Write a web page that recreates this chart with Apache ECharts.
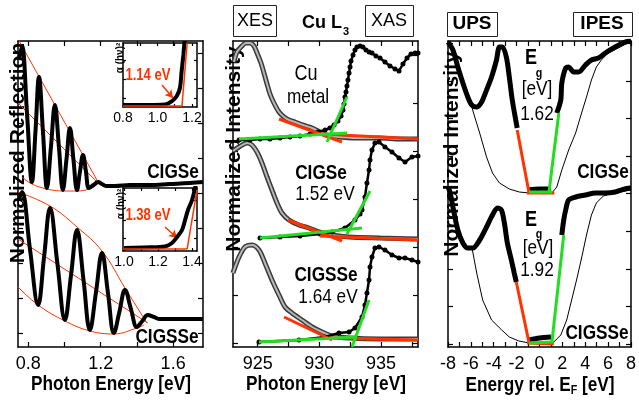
<!DOCTYPE html>
<html><head><meta charset="utf-8">
<script src="https://cdn.jsdelivr.net/npm/echarts@6/dist/echarts.min.js"></script>
<style>html,body{margin:0;padding:0;background:#fff}#c{width:639px;height:407px}</style>
</head><body><div id="c"></div><script>
// ---------- Panel 1: reflectance (x: photon energy eV, y: arbitrary) ----------
const reflCIGSe = [[0.749,287],[0.765,301],[0.793,233],[0.820,165],[0.840,217],[0.859,270],[0.881,215],[0.903,159],[0.925,200],[0.947,242],[0.969,200],[0.991,157],[1.011,188],[1.030,219],[1.049,188],[1.069,157],[1.085,175],[1.102,192],[1.118,176],[1.135,159],[1.160,162],[1.185,165],[1.207,163],[1.229,161],[1.278,161],[1.361,162],[1.471,162],[1.582,163],[1.692,164],[1.764,165]];
const reflCIGSSe = [[0.749,148],[0.765,155],[0.809,98],[0.854,42],[0.887,90],[0.920,139],[0.961,83],[1.002,27],[1.036,72],[1.069,117],[1.105,67],[1.140,17],[1.174,55],[1.207,94],[1.240,54],[1.273,14],[1.303,35],[1.334,57],[1.367,38],[1.400,20],[1.430,26],[1.460,32],[1.494,30],[1.527,28],[1.600,28],[1.700,28],[1.764,28]];
const envCIGSeUp = [[0.743,308],[1.179,167]];
const envCIGSeMid = [[0.743,244],[1.180,165]];
const envCIGSeLow = [[0.765,170],[0.820,163],[0.903,158],[0.991,156],[1.069,156],[1.135,158],[1.185,163]];
const envCIGSSeUp = [[0.743,155],[0.920,141],[1.069,120],[1.207,96],[1.334,59],[1.455,24]];
const envCIGSSeMid = [[0.743,108],[1.460,24]];
const envCIGSSeLow = [[0.743,60],[0.854,42],[1.002,26],[1.140,16],[1.273,13],[1.400,19],[1.440,22]];
const p1XTicks = [0.8,1.0,1.2,1.4,1.6];
const p1XLabels = [0.8,1.2,1.6];
const p1YTicks = [14,49,84,119,154,189,224,259,294];
// insets: alpha(hv)^2
const in1Abs = [[0.80,2],[0.95,2],[1.043,2.5],[1.082,5.7],[1.111,10.7],[1.130,19],[1.140,36],[1.150,52],[1.155,62],[1.160,70]];
const in1FitBase = [[0.80,1],[1.142,1]];
const in1FitEdge = [[1.142,1],[1.172,64]];
const in1Arrow = [[1.026,22],[1.090,9]];
const in1XTicks = [0.8,0.9,1.0,1.1,1.2];
const in1XLabels = [0.8,1.0,1.2];
const in1YTicks = [9,28,47];
const in2Abs = [[1.0,3],[1.2,4],[1.241,4.5],[1.282,8],[1.312,14],[1.341,21],[1.359,31],[1.376,41],[1.400,51],[1.418,63],[1.425,70]];
const in2FitBase = [[0.994,2],[1.371,2]];
const in2FitEdge = [[1.371,2],[1.429,61]];
const in2Arrow = [[1.241,24],[1.312,13]];
const in2XTicks = [1.0,1.1,1.2,1.3,1.4];
const in2XLabels = [1.0,1.2,1.4];
const in2YTicks = [13,31,51];

// ---------- Panel 2: Cu L3 XES / XAS ----------
const xesCu = [[923.08,285],[923.32,295],[923.73,301],[924.05,304],[924.38,304],[924.70,301],[924.95,294],[925.27,284],[925.51,274],[925.76,263],[926.0,253],[926.32,244],[926.73,235],[927.14,230],[927.54,227],[928.03,225],[928.43,223],[928.92,221],[929.41,219],[929.89,216],[930.38,213],[930.86,211],[931.67,210],[933.3,209],[934.92,209],[936.54,208],[938,208]];
const xasCu = [[923.49,207],[924.38,207],[925.19,208],[926.0,208],[926.81,209],[927.62,210],[928.43,211],[929.25,213],[929.89,215],[930.46,217],[930.86,219],[931.19,222],[931.51,226],[931.76,231],[931.92,237],[932.0,243],[932.08,250],[932.16,255],[932.24,261],[932.32,267],[932.41,274],[932.49,280],[932.57,286],[932.73,292],[932.89,297],[933.05,300],[933.30,301],[933.54,300],[933.78,297],[934.03,295],[934.27,294],[934.59,291],[934.92,289],[935.32,285],[935.73,281],[936.14,278],[936.46,276],[936.78,283],[937.11,289],[937.43,293],[937.76,294],[938.0,294]];
const xesCIGSe = [[923.0,196],[923.49,200],[924.14,204],[924.54,202],[924.95,195],[925.35,184],[925.76,170],[926.16,157],[926.57,144],[926.97,134],[927.54,127],[928.35,122],[929.16,119],[929.97,115],[931.03,112],[932.41,110],[934.92,109],[938,108]];
const xasCIGSe = [[925.19,109],[926.81,110],[928.43,111],[930.05,113],[931.03,115],[932.08,119],[932.89,127],[933.3,133],[933.46,137],[933.70,150],[933.86,164],[934.03,177],[934.11,187],[934.27,197],[934.51,204],[934.84,205],[935.32,200],[935.89,195],[936.46,189],[936.95,185],[937.51,190],[938,191]];
const xesCIGSSe = [[923.0,74],[923.08,77],[923.49,90],[923.97,100],[924.54,102],[925.11,97],[925.59,84],[926.16,67],[926.73,52],[927.22,40],[927.78,34],[928.59,27],[929.41,20],[930.22,15],[931.03,11],[932.41,9],[934.92,8],[938,8]];
const xasCIGSSe = [[925.11,5],[928.35,7],[930.46,10],[931.59,14],[932.41,15],[932.89,19],[933.46,30],[933.70,42],[933.86,54],[934.03,67],[934.11,80],[934.27,90],[934.51,99],[934.84,100],[935.32,97],[935.89,92],[936.46,89],[936.95,89],[937.51,87],[938,85]];
const fitCuRed = [[926.73,228],[931.84,205]];
const fitCuRedBase = [[930.22,213],[938,208]];
const fitCuGreenBase = [[923.49,208],[932.24,214]];
const fitCuGreen = [[930.62,205],[932.24,250]];
const fitCIGSeRed = [[927.46,127],[931.84,106]];
const fitCIGSeRedBase = [[930.05,111],[938,107]];
const fitCIGSeGreenBase = [[925.19,109],[933.46,119]];
const fitCIGSeGreen = [[932.24,113],[934.11,156]];
const fitCIGSSeRed = [[927.14,30],[931.03,7]];
const fitCIGSSeRedBase = [[930.78,9],[938,7]];
const fitCIGSSeGreenBase = [[925.11,5],[932.89,10]];
const fitCIGSSeGreen = [[932.65,0],[934.03,47]];
const p2XTicks = [925,927.5,930,932.5,935,937.5];
const p2XLabels = [925,930,935];
const p2YTicks = [4,52,100,148,196,244,292];

// ---------- Panel 3: UPS / IPES ----------
const upsCIGSe = [[-8,305],[-7.57,297],[-7.14,280],[-6.70,264],[-6.27,250],[-5.92,242],[-5.49,240],[-5.06,245],[-4.63,257],[-4.19,270],[-3.76,287],[-3.50,300],[-3.24,300],[-2.90,290],[-2.64,270],[-2.38,247],[-2.03,224],[-1.95,219]];
const ipesCIGSe = [[1.51,234],[1.86,247],[1.95,264],[2.29,279],[2.55,280],[2.98,275],[3.42,275],[4.02,282],[4.54,287],[5.15,289],[5.75,294],[6.62,300],[7.48,305],[8.0,306]];
const gapCIGSe = [[-1.0,157],[0,158],[1.0,158]];
const thinCIGSe = [[-5.92,240],[-5.66,230],[-5.23,214],[-4.63,190],[-4.11,174],[-3.50,164],[-2.64,158],[-1.77,155],[-0.91,154],[1.08,154],[1.51,160],[1.95,177],[2.55,197],[3.16,214],[3.68,234],[4.11,250],[4.54,267],[4.97,280],[5.41,287],[6.01,294],[6.88,299],[7.91,305]];
const upsCIGSSe = [[-8,160],[-7.83,155],[-7.57,140],[-7.14,117],[-6.70,104],[-6.27,99],[-5.84,99],[-5.23,107],[-4.63,120],[-4.11,132],[-3.68,139],[-3.33,137],[-3.07,124],[-2.81,104],[-2.46,87],[-2.21,74],[-2.03,65]];
const ipesCIGSSe = [[1.95,112],[2.12,127],[2.29,137],[2.55,147],[3.16,150],[4.02,152],[4.89,154],[5.75,154],[6.62,155],[7.91,159],[8,159]];
const gapCIGSSe = [[-0.9,7],[0,9],[1.0,10]];
const thinCIGSSe = [[-5.9,99],[-5.49,74],[-4.97,47],[-4.19,27],[-3.3,17],[-2.64,10],[-1.8,6],[-0.91,4],[1.25,5],[1.86,12],[2.38,27],[2.81,47],[3.24,67],[3.68,89],[4.11,112],[4.54,132],[4.97,144],[5.58,151],[6.44,154],[8.0,157]];
const fitUpsCIGSe = [[-1.95,217],[-0.91,154]];
const fitUpsCIGSeBase = [[-1.1,154],[1.3,154]];
const fitIpesCIGSeBase = [[-0.91,155],[1.08,155]];
const fitIpesCIGSe = [[0.82,154],[1.69,234]];
const fitUpsCIGSSe = [[-2.03,65],[-0.91,4]];
const fitUpsCIGSSeBase = [[-1.08,4],[1.25,3]];
const fitIpesCIGSSeBase = [[-0.91,4],[1.08,5]];
const fitIpesCIGSSe = [[1.08,4],[2.12,112]];
const p3XTicks = [-8,-7,-6,-5,-4,-3,-2,-1,0,1,2,3,4,5,6,7,8];
const p3XLabels = [-8,-6,-4,-2,0,2,4,6,8];
const p3YTicks = [3,40.6,78.2,115.8,153.4,191,228.6,266.2,303.8];

// ---------- styling ----------
const SANS = "'Liberation Sans',Arial,sans-serif";
const SQ = 0.82; // horizontal squeeze of the original lettering
const RED = '#ff3300', GREEN = '#22dd22';

const grids = [
  {left:18, top:41, width:185, height:306},
  {left:123, top:43, width:74, height:64},
  {left:123, top:188, width:74, height:63},
  {left:233, top:41, width:185, height:306},
  {left:448, top:41, width:185, height:306}
];
const xAxes = [], yAxes = [];
function frame(g, xr, yr, xt, xl, yt, o) {
  const line = {show:true, onZero:false, lineStyle:{color:'#000', width:1.5}};
  const tk = v => ({show:true, inside:true, length:o.tick, customValues:v, lineStyle:{color:'#000', width:1.2}});
  const xi = xAxes.length, yi = yAxes.length;
  xAxes.push({type:'value', gridIndex:g, position:'bottom', min:xr[0], max:xr[1], axisLine:line, axisTick:tk(xt), splitLine:{show:false},
    axisLabel:{show:true, customValues:xl, margin:o.margin, color:'#000', fontFamily:SANS, fontSize:o.size, formatter:o.fmt}});
  xAxes.push({type:'value', gridIndex:g, position:'top', min:xr[0], max:xr[1], axisLine:line, axisTick:tk(xt), axisLabel:{show:false}, splitLine:{show:false}});
  yAxes.push({type:'value', gridIndex:g, position:'left', min:yr[0], max:yr[1], axisLine:line, axisTick:tk(yt), axisLabel:{show:false}, splitLine:{show:false}});
  yAxes.push({type:'value', gridIndex:g, position:'right', min:yr[0], max:yr[1], axisLine:line, axisTick:tk(yt), axisLabel:{show:false}, splitLine:{show:false}});
  return [xi, yi];
}
const f1 = v => v.toFixed(1), f0 = v => String(v);
const A1 = frame(0, [0.743,1.765], [0,306], p1XTicks, p1XLabels, p1YTicks, {tick:5, margin:8, size:18, fmt:f1});
const I1 = frame(1, [0.8,1.229], [0,64], in1XTicks, in1XLabels, in1YTicks, {tick:3, margin:4, size:14, fmt:f1});
const I2 = frame(2, [0.994,1.429], [0,63], in2XTicks, in2XLabels, in2YTicks, {tick:3, margin:4, size:14, fmt:f1});
const A2 = frame(3, [923,938], [0,306], p2XTicks, p2XLabels, p2YTicks, {tick:5, margin:8, size:18, fmt:f0});
const A3 = frame(4, [-8,8], [0,306], p3XTicks, p3XLabels, p3YTicks, {tick:5, margin:8, size:18, fmt:f0});

const series = [];
function ln(ax, data, color, width, extra) {
  series.push(Object.assign({type:'line', xAxisIndex:ax[0], yAxisIndex:ax[1], data, showSymbol:false, symbol:'none',
    lineStyle:{color, width}, itemStyle:{color}, animation:false, silent:true, z:3}, extra || {}));
}
function tube(ax, data) { // XES open-circle band
  ln(ax, data, '#3a3a3a', 5, {smooth:0.3, z:3});
  ln(ax, data, '#b8b8b8', 2, {smooth:0.3, z:4});
}
function dots(ax, data) { // XAS filled dots
  ln(ax, data, '#000', 2.5, {showSymbol:true, showAllSymbol:true, symbol:'circle', symbolSize:5, z:5});
}
// panel 1
ln(A1, envCIGSeUp, RED, 1); ln(A1, envCIGSeMid, RED, 1); ln(A1, envCIGSeLow, RED, 1, {smooth:0.4});
ln(A1, envCIGSSeUp, RED, 1, {smooth:0.4}); ln(A1, envCIGSSeMid, RED, 1); ln(A1, envCIGSSeLow, RED, 1, {smooth:0.4});
ln(A1, reflCIGSe, '#000', 4, {smooth:0.4, z:4});
ln(A1, reflCIGSSe, '#000', 4, {smooth:0.4, z:4});
// insets
ln(I1, in1Abs, '#000', 4, {smooth:0.3, z:5});
ln(I1, in1FitBase, RED, 1.5, {z:6}); ln(I1, in1FitEdge, RED, 1.5, {z:6});
ln(I1, in1Arrow, RED, 1.5, {z:6, lineStyle:{width:0}, markLine:{silent:true, symbol:['none','arrow'], symbolSize:[7,8], label:{show:false}, lineStyle:{color:RED, width:1.5, type:'solid'}, data:[[{coord:in1Arrow[0]},{coord:in1Arrow[1]}]]}});
ln(I2, in2Abs, '#000', 4, {smooth:0.3, z:5});
ln(I2, in2FitBase, RED, 1.5, {z:6}); ln(I2, in2FitEdge, RED, 1.5, {z:6});
ln(I2, in2Arrow, RED, 1.5, {z:6, lineStyle:{width:0}, markLine:{silent:true, symbol:['none','arrow'], symbolSize:[7,8], label:{show:false}, lineStyle:{color:RED, width:1.5, type:'solid'}, data:[[{coord:in2Arrow[0]},{coord:in2Arrow[1]}]]}});
// panel 2
[[xesCu, xasCu, fitCuRed, fitCuRedBase, fitCuGreenBase, fitCuGreen],
 [xesCIGSe, xasCIGSe, fitCIGSeRed, fitCIGSeRedBase, fitCIGSeGreenBase, fitCIGSeGreen],
 [xesCIGSSe, xasCIGSSe, fitCIGSSeRed, fitCIGSSeRedBase, fitCIGSSeGreenBase, fitCIGSSeGreen]].forEach(s => {
  tube(A2, s[0]); dots(A2, s[1]);
  ln(A2, s[2], RED, 3, {z:7}); ln(A2, s[3], RED, 3, {z:7});
  ln(A2, s[4], GREEN, 3, {z:8}); ln(A2, s[5], GREEN, 3, {z:8});
});
// panel 3
[[upsCIGSe, ipesCIGSe, gapCIGSe, thinCIGSe, fitUpsCIGSe, fitUpsCIGSeBase, fitIpesCIGSeBase, fitIpesCIGSe],
 [upsCIGSSe, ipesCIGSSe, gapCIGSSe, thinCIGSSe, fitUpsCIGSSe, fitUpsCIGSSeBase, fitIpesCIGSSeBase, fitIpesCIGSSe]].forEach(s => {
  ln(A3, s[3], '#000', 1, {z:3});
  ln(A3, s[0], '#000', 5, {smooth:0.3, z:4});
  ln(A3, s[1], '#000', 5, {smooth:0.3, z:4});
  ln(A3, s[2], '#000', 5, {smooth:0.3, z:4});
  ln(A3, s[4], RED, 3, {z:7}); ln(A3, s[5], RED, 3, {z:7});
  ln(A3, s[6], GREEN, 3, {z:8}); ln(A3, s[7], GREEN, 3, {z:8});
});

function T(x, y, text, size, o) {
  o = o || {};
  const st = {text, fill:o.color || '#000', font:(o.bold ? 'bold ' : '') + size + 'px ' + SANS,
      textAlign:'center', textVerticalAlign:'middle', align:'center', verticalAlign:'middle'};
  if (o.rich) st.rich = o.rich;
  return {type:'text', x, y, rotation:o.rot || 0, scaleX:o.sx == null ? SQ : o.sx, z:o.z == null ? 10 : o.z, silent:true, style:st};
}
function box(x, y, w, h) {
  return {type:'rect', z:10, silent:true, shape:{x:x + 0.5, y:y + 0.5, width:w, height:h}, style:{fill:'#fff', stroke:'#222', lineWidth:1}};
}
const subRich = {sub:{fill:'#000', font:'bold 13px ' + SANS, verticalAlign:'bottom', padding:[10,0,0,0]}};
const graphics = [
  T(18, 153, 'Normalized Reflection', 21, {bold:true, rot:Math.PI/2, sx:1, z:1}),
  {type:'rect', z:5, silent:true, shape:{x:0, y:0, width:215, height:39.5}, style:{fill:'#fff'}},
  T(234, 149, 'Normalized Intensity', 21, {bold:true, rot:Math.PI/2, sx:1, z:1}),
  T(452, 154, 'Normalized Intensity', 21, {bold:true, rot:Math.PI/2, sx:1, z:1}),
  T(111, 384, 'Photon Energy [eV]', 21, {bold:true}),
  T(326, 384, 'Photon Energy [eV]', 21, {bold:true}),
  T(540, 385, 'Energy rel. E{sub|F} [eV]', 21, {bold:true, rich:subRich}),
  box(233, 5, 43, 31), T(255, 21, 'XES', 18, {sx:1}),
  T(322, 23, 'Cu L', 18, {bold:true, sx:1}), T(346, 32, '3', 11, {bold:true, sx:1}),
  box(365, 5, 48, 31), T(389, 21, 'XAS', 18, {sx:1}),
  box(447, 12, 50, 24), T(472, 24, 'UPS', 19, {bold:true, sx:1}),
  box(573, 12, 59, 24), T(602, 24, 'IPES', 19, {bold:true, sx:1}),
  T(173, 172, 'CIGSe', 21, {bold:true}),
  T(167, 337, 'CIGSSe', 21, {bold:true}),
  T(148, 76, '1.14 eV', 16, {bold:true, color:RED}),
  T(148, 216, '1.38 eV', 16, {bold:true, color:RED}),
  T(120, 58, 'α (hν)²', 10, {bold:true, rot:Math.PI/2, sx:1}),
  T(121, 204, 'α (hν)²', 10, {bold:true, rot:Math.PI/2, sx:1}),
  T(306, 74, 'Cu', 22), T(308, 97, 'metal', 21),
  T(321, 173, 'CIGSe', 21, {bold:true}), T(325, 194, '1.52 eV', 21),
  T(326, 275, 'CIGSSe', 21, {bold:true}), T(328, 297, '1.64 eV', 21),
  T(531, 58, 'E', 22, {bold:true}), T(539, 73, 'g', 13, {bold:true}),
  T(537, 89, '[eV]', 21), T(537, 114, '1.62', 21),
  T(531, 220, 'E', 22, {bold:true}), T(539, 234, 'g', 13, {bold:true}),
  T(538, 248, '[eV]', 21), T(537, 270, '1.92', 21),
  T(603, 172, 'CIGSe', 21, {bold:true}),
  T(597, 333, 'CIGSSe', 21, {bold:true})
];

const chart = echarts.init(document.getElementById('c'), null, {renderer:'canvas'});
chart.setOption({
  animation:false,
  backgroundColor:'#fff',
  grid:grids,
  xAxis:xAxes,
  yAxis:yAxes,
  series:series,
  graphic:{elements:graphics}
});
</script></body></html>
